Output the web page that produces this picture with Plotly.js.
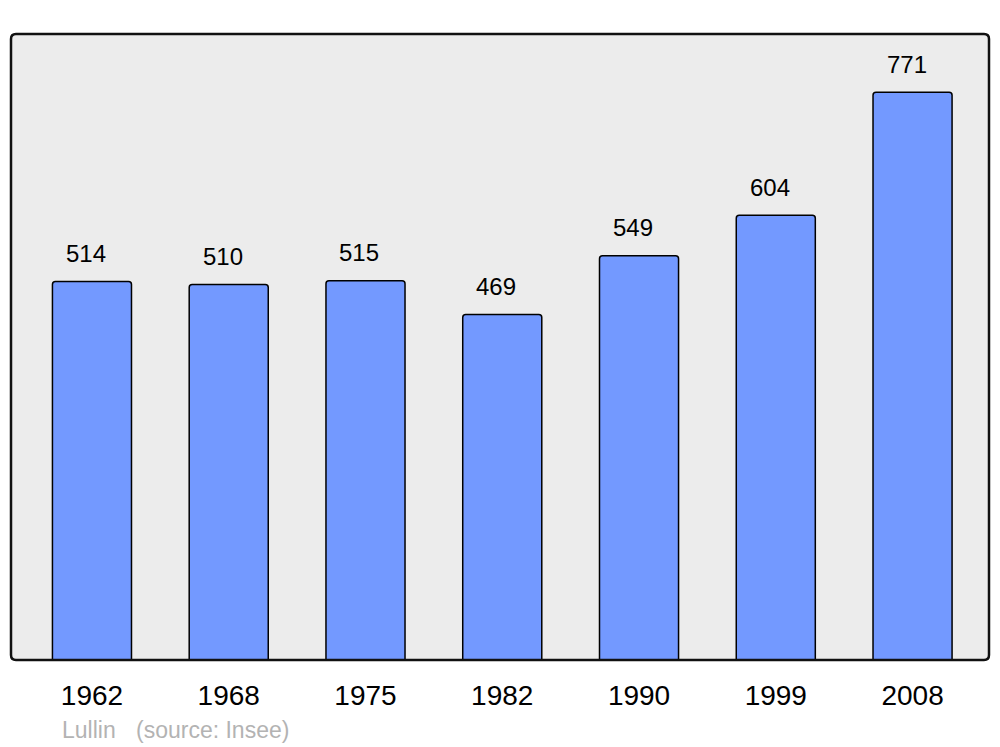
<!DOCTYPE html>
<html>
<head>
<meta charset="utf-8">
<script src="https://cdn.plot.ly/plotly-3.0.1.min.js"></script>
<style>html,body{margin:0;padding:0;background:#fff}#chart{width:1000px;height:747px}</style>
</head>
<body>
<div id="chart"></div>
<script>
const years = ["1962", "1968", "1975", "1982", "1990", "1999", "2008"];
const population = [514, 510, 515, 469, 549, 604, 771];
const placeName = "Lullin";
const sourceText = "(source: Insee)";

const W = 978, H = 626, r = 5;
const rx = r / W, ry = r / H;
function roundedRect() {
  return `M ${rx} 0 L ${1 - rx} 0 Q 1 0 1 ${ry} L 1 ${1 - ry} Q 1 1 ${1 - rx} 1 L ${rx} 1 Q 0 1 0 ${1 - ry} L 0 ${ry} Q 0 0 ${rx} 0 Z`;
}
const FONT = "Liberation Sans, Arial, sans-serif";

const trace = {
  type: "bar",
  x: years,
  y: population,
  width: 0.578,
  marker: { color: "#7399ff", line: { color: "#000", width: 1.5 }, cornerradius: 3 },
  hoverinfo: "none"
};

// value labels above the bars (x given as category index)
const labelAnns = population.map((v, i) => ({
  x: i, y: v, xref: "x", yref: "y",
  text: String(v), showarrow: false,
  xanchor: "center", yanchor: "middle",
  xshift: -6, yshift: 28,
  font: { family: FONT, size: 24, color: "#000" }
}));

const layout = {
  width: 1000, height: 747,
  margin: { l: 11, r: 11, t: 34, b: 87 },
  paper_bgcolor: "#fff",
  plot_bgcolor: "rgba(0,0,0,0)",
  showlegend: false,
  xaxis: {
    type: "category", range: [-0.592, 6.559],
    showgrid: false, zeroline: false, showline: false, ticks: "",
    tickfont: { family: FONT, size: 28, color: "#000" },
    ticklabelstandoff: 16
  },
  yaxis: {
    range: [0, 850], showgrid: false, zeroline: false, showline: false,
    showticklabels: false, ticks: ""
  },
  shapes: [
    { type: "path", xref: "paper", yref: "paper", path: roundedRect(), fillcolor: "#ececec", line: { width: 0 }, layer: "below" },
    { type: "path", xref: "paper", yref: "paper", path: roundedRect(), fillcolor: "rgba(0,0,0,0)", line: { color: "#111", width: 2.5 }, layer: "above" }
  ],
  annotations: labelAnns.concat([
    { xref: "paper", yref: "paper", x: 49 / W, y: -70 / H, xanchor: "left", yanchor: "middle",
      text: placeName, showarrow: false,
      font: { family: FONT, size: 23, color: "#b3b3b3" } },
    { xref: "paper", yref: "paper", x: 123 / W, y: -70 / H, xanchor: "left", yanchor: "middle",
      text: sourceText, showarrow: false,
      font: { family: FONT, size: 23, color: "#b3b3b3" } }
  ])
};

Plotly.newPlot("chart", [trace], layout, { displayModeBar: false, staticPlot: true });
</script>
</body>
</html>
